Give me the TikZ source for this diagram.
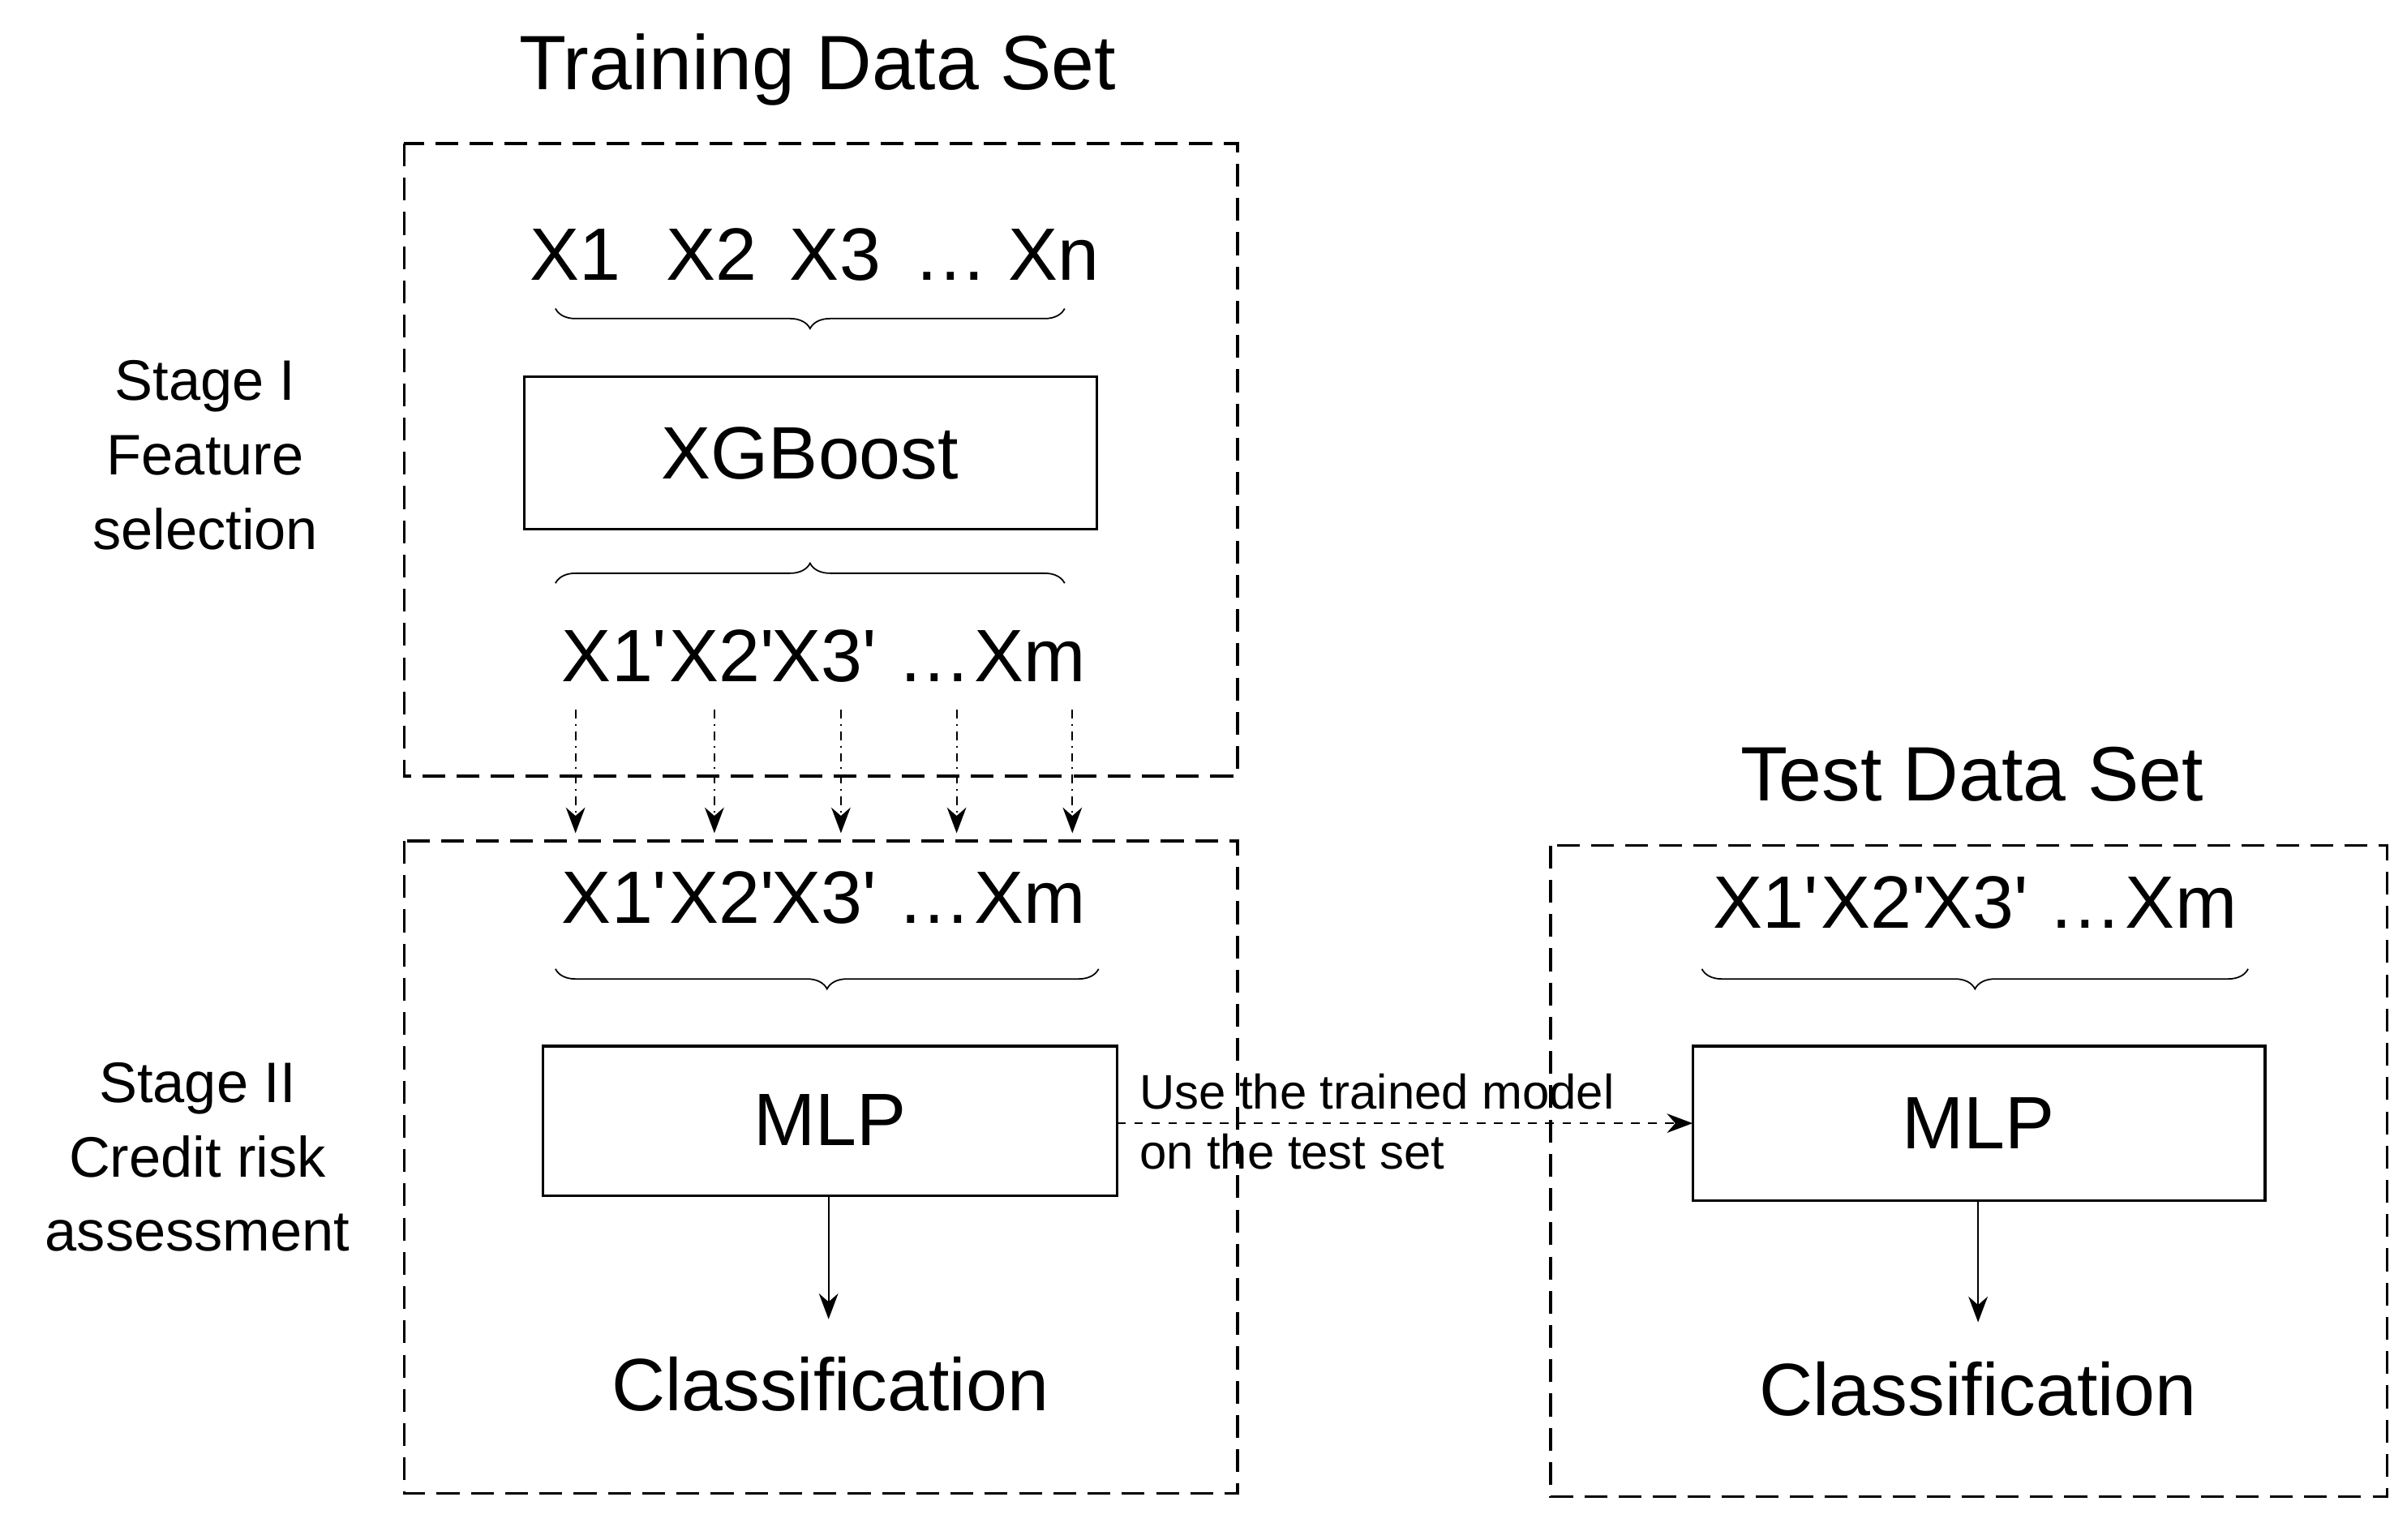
\documentclass[tikz,border=0pt]{standalone}
\usepackage{fontspec}
\setmainfont{Liberation Sans}
\usetikzlibrary{decorations.pathreplacing,arrows.meta}
\newcommand{\pr}{\textquotesingle}
\begin{document}
\begin{tikzpicture}[x=0.019cm,y=-0.019cm,
    big/.style={font=\fontsize{26}{30}\selectfont},
    stage/.style={font=\fontsize{20}{24}\selectfont,align=center},
    frame/.style={draw,dashed,line width=1pt,dash pattern=on 8pt off 4pt},
    model/.style={draw,line width=0.9pt},
    brc/.style={decorate,decoration={brace,amplitude=7pt},line width=0.5pt},
    flow/.style={-{Stealth[length=9pt]},line width=0.6pt}]
\useasboundingbox (0,0) rectangle (1560,998);
% training set
\node[big,font=\fontsize{27}{30}\selectfont] (ttrain) at (530,45) {Training Data Set};
\draw[frame] (262,93) rectangle (802,503);
\node[big] (xin) at (528,165) {X1\,\, X2\, X3\, \dots\ Xn};
\draw[brc] (690,200) -- (360,200);
\draw[model] (340,244) rectangle (711,343);
\node[big] (xgb) at (525,294) {XGBoost};
\draw[brc] (360,378) -- (690,378);
\node[big] (xsel) at (534,425) {X1\pr\kern1pt X2\pr\kern-1pt X3\pr\ \dots\kern1pt Xm};
\node[stage] (st1) at (133,295) {Stage I\\[2pt]Feature\\[2pt]selection};
% stage II
\draw[frame] (262,545) rectangle (802,968);
\node[big] (xtr) at (534,582) {X1\pr\kern1pt X2\pr\kern-1pt X3\pr\ \dots\kern1pt Xm};
\draw[brc] (712,628) -- (360,628);
\draw[model] (352,678) rectangle (724,775);
\node[big] (mlp1) at (538,726) {MLP};
\node[big] (cls1) at (538,897) {Classification};
\node[stage] (st2) at (128,750) {Stage II\\[2pt]Credit risk\\[2pt]assessment};
\foreach \x in {373,463,545,620,695}
  \draw[flow,dash dot] (\x,460) -- (\x,540);
\draw[flow] (537,775) -- (537,855);
% test set
\node[big,font=\fontsize{27}{30}\selectfont] (ttest) at (1278,502) {Test Data Set};
\draw[frame] (1005,548) rectangle (1547,970);
\node[big] (xte) at (1280,585) {X1\pr\kern1pt X2\pr\kern-1pt X3\pr\ \dots\kern1pt Xm};
\draw[brc] (1457,628) -- (1103,628);
\draw[model] (1097,678) rectangle (1468,778);
\node[big] (mlp2) at (1282,728) {MLP};
\node[big] (cls2) at (1282,900) {Classification};
\draw[flow] (1282,778) -- (1282,857);
\draw[flow,dashed] (724,728) -- (1097,728);
\node[font=\fontsize{17}{21}\selectfont,align=left,anchor=west] (use) at (732,727) {Use the trained model\\on the test set};
\end{tikzpicture}
\end{document}
